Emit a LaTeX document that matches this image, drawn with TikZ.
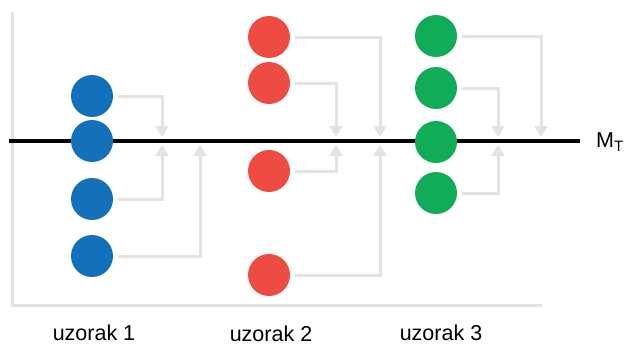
\documentclass[tikz,border=0pt]{standalone}
\usepackage{fontspec}
\setmainfont{Liberation Sans}
\usetikzlibrary{arrows.meta}
\definecolor{cblue}{HTML}{1370B9}
\definecolor{cred}{HTML}{EE4B43}
\definecolor{cgreen}{HTML}{10AC58}
\definecolor{cgrey}{HTML}{E3E3E3}
\tikzset{
  dot/.style={circle,minimum size=42pt,inner sep=0pt,draw=none},
  conn/.style={cgrey,line width=3pt,shorten <=5pt,shorten >=4pt,
    -{Triangle[width=13pt,length=11pt]}},
  axisline/.style={cgrey,line width=3pt},
  lbl/.style={font=\fontsize{21.5}{24}\selectfont,anchor=base}
}
\begin{document}
\begin{tikzpicture}[x=1pt,y=-1pt]
\useasboundingbox (0,0) rectangle (628,346);
% axes
\coordinate (ax0) at (12,12);
\coordinate (ax1) at (12,305);
\coordinate (ax2) at (542,305);
\draw[axisline] (ax0) -- (ax1) -- (ax2);
% black line
\coordinate (m0) at (9,141);
\coordinate (m1) at (580,141);
\draw[black,line width=3.6pt] (m0) -- (m1);
\node[anchor=west,font=\fontsize{21.5}{24}\selectfont,inner sep=0pt] (mt) at (596,142) {M\textsubscript{T}};
% tip coordinates
\coordinate (tb1) at (162,141);
\coordinate (tb2) at (200,141);
\coordinate (tr1) at (336,141);
\coordinate (tr2) at (380,141);
\coordinate (tg1) at (498,141);
\coordinate (tg2) at (541,141);
% blue
\node[dot,fill=cblue] (b1) at (92,96) {};
\node[dot,fill=cblue] (b2) at (92,141) {};
\node[dot,fill=cblue] (b3) at (92,199) {};
\node[dot,fill=cblue] (b4) at (92,256) {};
% red
\node[dot,fill=cred] (r1) at (269,37) {};
\node[dot,fill=cred] (r2) at (269,83) {};
\node[dot,fill=cred] (r3) at (269,171) {};
\node[dot,fill=cred] (r4) at (269,275) {};
% green
\node[dot,fill=cgreen] (g1) at (436,36) {};
\node[dot,fill=cgreen] (g2) at (436,88) {};
\node[dot,fill=cgreen] (g3) at (436,142) {};
\node[dot,fill=cgreen] (g4) at (436,193) {};
% connectors
\draw[conn] (b1) -| (tb1);
\draw[conn] (b3) -| (tb1);
\draw[conn] (b4) -| (tb2);
\draw[conn] (r1) -| (tr2);
\draw[conn] (r2) -| (tr1);
\draw[conn] (r3) -| (tr1);
\draw[conn] (r4) -| (tr2);
\draw[conn] (g1) -| (tg2);
\draw[conn] (g2) -| (tg1);
\draw[conn] (g4) -| (tg1);
% labels
\node[lbl] (l1) at (94,340) {uzorak 1};
\node[lbl] (l2) at (271,341) {uzorak 2};
\node[lbl] (l3) at (441,340) {uzorak 3};
\end{tikzpicture}
\end{document}
